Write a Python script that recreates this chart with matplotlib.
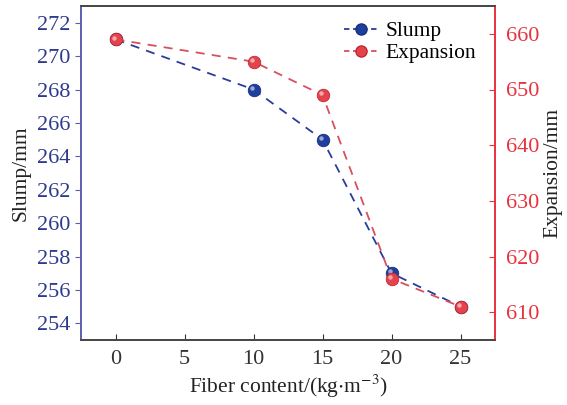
import matplotlib
matplotlib.use("Agg")
import matplotlib.pyplot as plt
import matplotlib.transforms as mtransforms
from matplotlib.lines import Line2D

plt.rcParams["font.family"] = ["Liberation Serif", "DejaVu Serif"]
plt.rcParams["mathtext.fontset"] = "stix"

# ── data ────────────────────────────────────────────────────────────────
fiber = [0, 10, 15, 20, 25]
slump = [271, 268, 265, 257, 255]
expansion = [659, 655, 649, 616, 611]

BLUE_TXT = "#2e3a8e"
BLUE_SP = "#5b5fae"
BLUE_LN = "#2a3d9a"
BLUE_MK = "#1f3f9f"
RED = "#e8323c"
RED_LN = "#d6505e"
RED_MK = "#e5434c"
DARK = "#333333"
FS = 16
LFS = 15.5

fig = plt.figure(figsize=(5.67, 4.05), dpi=100)
ax = fig.add_axes([81 / 567, 1 - 340 / 405, (495 - 81) / 567, (340 - 6) / 405])
ax2 = ax.twinx()


def sphere(a, x, y, color, edge):
    a.plot(x, y, ls="none", marker="o", ms=9, mfc=color, mec=edge, mew=0.6, zorder=4)
    off = mtransforms.ScaledTranslation(-1.3 / 72, 1.3 / 72, fig.dpi_scale_trans)
    a.plot(x, y, ls="none", marker="o", ms=3.2, mfc="white", mec="none", alpha=0.55,
           zorder=5, transform=a.transData + off)


ax.plot(fiber, slump, ls=(0, (5, 4)), color=BLUE_LN, lw=1.3, zorder=3)
sphere(ax, fiber, slump, BLUE_MK, "#17307a")
ax2.plot(fiber, expansion, ls=(0, (5, 4)), color=RED_LN, lw=1.3, zorder=3)
sphere(ax2, fiber, expansion, RED_MK, "#c02a34")

ax.set_xlim(-2.5, 27.5)
ax.set_ylim(253, 273)
ax2.set_ylim(605, 665)
ax.set_xticks([0, 5, 10, 15, 20, 25])
ax.set_yticks(range(254, 273, 2))
ax2.set_yticks(range(610, 661, 10))

ax.tick_params(axis="x", direction="in", colors=DARK, labelsize=FS, length=4, pad=7)
ax.tick_params(axis="y", direction="out", colors=BLUE_SP, labelcolor=BLUE_TXT,
               labelsize=FS, length=4, pad=4)
ax2.tick_params(axis="y", direction="in", colors=RED, labelcolor=RED,
                labelsize=FS, length=4, pad=8)

for a in (ax, ax2):
    a.spines["top"].set_color("#444444")
    a.spines["bottom"].set_color("#444444")
    a.spines["left"].set_color(BLUE_SP)
    a.spines["right"].set_color(RED)
    for s in a.spines.values():
        s.set_linewidth(1.2)

ax.set_xlabel("Fiber content/(kg$\\cdot$m$^{-3}$)", fontsize=LFS, color="#222222", labelpad=3)
ax.set_ylabel("Slump/mm", fontsize=LFS, color="#222222", labelpad=4)
ax2.set_ylabel("Expansion/mm", fontsize=LFS, color="#222222", labelpad=3)

handles = [
    Line2D([0], [0], ls=(0, (3, 2)), color=BLUE_LN, lw=1.3, marker="o", ms=8,
           mfc=BLUE_MK, mec="#17307a", label="Slump"),
    Line2D([0], [0], ls=(0, (3, 2)), color=RED_LN, lw=1.3, marker="o", ms=8,
           mfc=RED_MK, mec="#c02a34", label="Expansion"),
]
ax.legend(handles=handles, loc="upper right", frameon=False, fontsize=LFS,
          handlelength=1.6, handletextpad=0.3, labelspacing=0.1,
          borderaxespad=0.3, bbox_to_anchor=(0.99, 1.0))

fig.savefig("out.png", dpi=100)
